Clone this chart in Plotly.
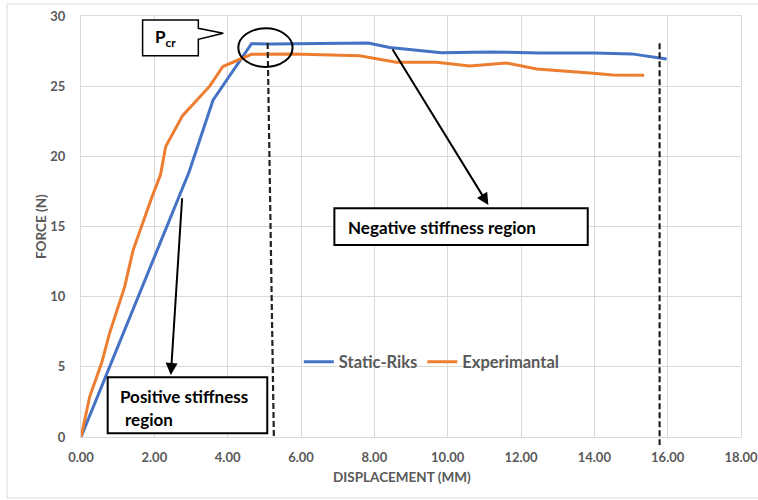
import plotly.graph_objects as go

# ---- data ----
riks_x = [0.0, 1.0, 2.0, 2.95, 3.6, 4.65, 5.2, 6.5, 7.83, 8.42, 9.83, 11.15, 12.5, 14.0, 15.02, 15.97]
riks_y = [0.0, 6.4, 12.8, 18.9, 24.0, 28.03, 28.0, 28.02, 28.08, 27.75, 27.39, 27.44, 27.37, 27.37, 27.3, 26.94]

exp_x = [0.0, 0.24, 0.56, 0.78, 1.19, 1.42, 1.92, 2.17, 2.31, 2.77, 3.51, 3.87, 4.65, 5.78, 7.6, 8.6,
         9.7, 10.6, 11.6, 12.43, 13.97, 14.5, 15.36]
exp_y = [0.0, 2.9, 5.25, 7.4, 10.7, 13.3, 17.0, 18.7, 20.7, 22.9, 25.0, 26.4, 27.27, 27.3, 27.16, 26.7,
         26.7, 26.44, 26.65, 26.23, 25.92, 25.8, 25.78]

x_ticks = [0, 2, 4, 6, 8, 10, 12, 14, 16, 18]
x_tick_labels = ["0.00", "2.00", "4.00", "6.00", "8.00", "10.00", "12.00", "14.00", "16.00", "18.00"]
y_ticks = [0, 5, 10, 15, 20, 25, 30]

GRAY = "#595959"
GRID = "#d9d9d9"
FONT = "Lato"

fig = go.Figure()
fig.add_trace(go.Scatter(x=riks_x, y=riks_y, mode="lines", name="<b>Static-Riks</b>",
                         line=dict(color="#4472C4", width=3)))
fig.add_trace(go.Scatter(x=exp_x, y=exp_y, mode="lines", name="<b>Experimantal</b>",
                         line=dict(color="#ED7D31", width=3)))

shapes = []
# outer chart border
shapes.append(dict(type="rect", xref="paper", yref="paper", x0=-0.112, x1=1.04, y0=-0.145, y1=1.0285,
                   line=dict(color="#d9d9d9", width=1), layer="below"))
# dashed vertical lines
shapes.append(dict(type="line", xref="x", yref="y", x0=5.09, y0=28.07, x1=5.26, y1=0,
                   line=dict(color="#222222", width=2.2, dash="6px,3px")))
shapes.append(dict(type="line", xref="x", yref="paper", x0=15.78, y0=0.935, x1=15.78, y1=-0.019,
                   line=dict(color="#222222", width=2.2, dash="6px,3px")))
# ellipse around P_cr
shapes.append(dict(type="circle", xref="x", yref="y", x0=4.29, x1=5.77, y0=26.37, y1=29.12,
                   line=dict(color="black", width=2)))
# callout box
shapes.append(dict(type="path", xref="x", yref="y",
                   path="M 1.68,29.72 L 3.2,29.72 L 3.2,29.12 L 3.88,28.77 L 3.2,28.34 L 3.2,27.17 L 1.68,27.17 Z",
                   fillcolor="white", line=dict(color="black", width=1.5)))
# negative stiffness box
shapes.append(dict(type="rect", xref="x", yref="y", x0=6.91, x1=13.82, y0=13.68, y1=16.30,
                   fillcolor="white", line=dict(color="black", width=2)))
# positive stiffness box
shapes.append(dict(type="rect", xref="x", yref="y", x0=0.728, x1=5.08, y0=0.26, y1=4.25,
                   fillcolor="white", line=dict(color="black", width=2)))

annotations = []
annotations.append(dict(x=1.95, y=28.45, xref="x", yref="y", text="<b>P<sub>cr</sub></b>",
                        showarrow=False, xanchor="left", yanchor="middle",
                        font=dict(family=FONT, size=17, color="black")))
annotations.append(dict(x=7.22, y=14.94, xref="x", yref="y", text="<b>Negative stiffness region</b>",
                        showarrow=False, xanchor="left", yanchor="middle",
                        font=dict(family=FONT, size=17, color="black")))
annotations.append(dict(x=1.0, y=2.87, xref="x", yref="y", text="<b>Positive stiffness</b>",
                        showarrow=False, xanchor="left", yanchor="middle",
                        font=dict(family=FONT, size=17, color="black")))
annotations.append(dict(x=1.14, y=1.28, xref="x", yref="y", text="<b>region</b>",
                        showarrow=False, xanchor="left", yanchor="middle",
                        font=dict(family=FONT, size=17, color="black")))
# arrows
annotations.append(dict(x=2.45, y=4.42, ax=2.76, ay=17.12, xref="x", yref="y", axref="x", ayref="y",
                        text="", showarrow=True, arrowhead=2, arrowsize=1.2, arrowwidth=2, arrowcolor="black"))
annotations.append(dict(x=11.11, y=16.53, ax=8.47, ay=27.74, xref="x", yref="y", axref="x", ayref="y",
                        text="", showarrow=True, arrowhead=2, arrowsize=1.2, arrowwidth=2, arrowcolor="black"))
# axis titles
annotations.append(dict(x=(402 - 81) / 660, y=-0.094, xref="paper", yref="paper",
                        text="<b>DISPLACEMENT (MM)</b>", showarrow=False, xanchor="center", yanchor="middle",
                        font=dict(family=FONT, size=13.5, color=GRAY)))
annotations.append(dict(x=-0.0614, y=0.5, xref="paper", yref="paper", textangle=-90,
                        text="<b>FORCE (N)</b>", showarrow=False, xanchor="center", yanchor="middle",
                        font=dict(family=FONT, size=13.5, color=GRAY)))

fig.update_layout(
    width=758, height=500,
    margin=dict(l=81, r=17, t=16, b=63),
    paper_bgcolor="white", plot_bgcolor="white",
    font=dict(family=FONT, color=GRAY),
    shapes=shapes, annotations=annotations,
    showlegend=True,
    legend=dict(orientation="h", x=0.33, y=0.178, xanchor="left", yanchor="middle",
                bgcolor="rgba(0,0,0,0)", font=dict(family=FONT, size=16.5, color=GRAY),
                itemwidth=30, tracegroupgap=0),
)
fig.update_xaxes(range=[0, 18], tickvals=x_ticks, ticktext=["<b>%s</b>" % t for t in x_tick_labels],
                 tickfont=dict(family=FONT, size=13, color=GRAY), showgrid=True, gridcolor=GRID,
                 gridwidth=1, zeroline=False, showline=True, linecolor=GRID, mirror=True, ticks="",
                 ticklabelstandoff=8, ticklabeloverflow="allow", automargin=False)
fig.update_yaxes(range=[0, 30], tickvals=y_ticks, ticktext=["<b>%d</b>" % t for t in y_ticks],
                 tickfont=dict(family=FONT, size=13, color=GRAY), showgrid=True, gridcolor=GRID,
                 gridwidth=1, zeroline=False, showline=True, linecolor=GRID, mirror=True, ticks="",
                 ticklabelstandoff=12, ticklabeloverflow="allow", automargin=False)

fig.write_html("out.html", config={"displayModeBar": False},
               post_script="document.body.style.margin='0';document.body.style.padding='0';")
